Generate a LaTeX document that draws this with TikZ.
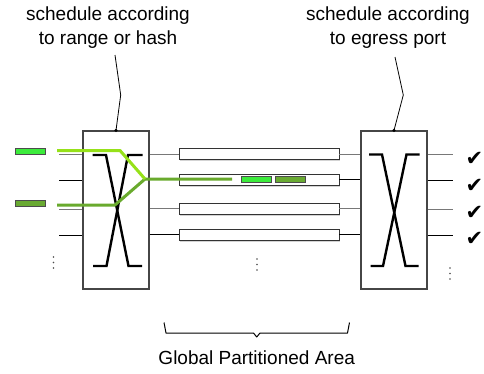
\documentclass[tikz,border=0pt]{standalone}
\usepackage{fontspec}
\setmainfont{Liberation Sans}
\newfontfamily\symfont{DejaVu Sans}
\usetikzlibrary{shadows}
\definecolor{portgray}{RGB}{120,120,120}
\definecolor{boxgray}{RGB}{70,70,70}
\definecolor{pktlight}{RGB}{60,235,60}
\definecolor{pktdark}{RGB}{105,170,50}
\definecolor{flowlight}{RGB}{150,225,25}
\definecolor{flowdark}{RGB}{105,170,45}
\tikzset{
  switchbox/.style={draw=boxgray, line width=1.3pt, fill=white, minimum width=66pt, minimum height=158pt, inner sep=0pt},
  xbar/.style={line width=2.4pt, black},
  buffer/.style={draw=black!80, line width=0.9pt, fill=white, minimum width=160pt, minimum height=11pt, inner sep=0pt,
    drop shadow={shadow xshift=1pt, shadow yshift=-1.5pt, opacity=0.35}},
  pkt/.style={draw=black!70, line width=0.7pt, minimum width=30pt, minimum height=6pt, inner sep=0pt},
  portg/.style={draw=portgray, line width=1pt},
  portb/.style={draw=black, line width=0.9pt},
  flow/.style={line width=3pt, line join=round},
  leader/.style={draw=black, line width=0.8pt},
  lbl/.style={font=\fontsize{19}{24}\selectfont, align=center, inner sep=0pt},
  vdot/.style={fill=black!70, circle, inner sep=0pt, minimum size=1.8pt},
  tick/.style={font=\symfont\fontsize{21}{21}\selectfont, inner sep=0pt}
}
\begin{document}
\begin{tikzpicture}[x=1pt,y=-1pt]
\useasboundingbox (0,0) rectangle (484,373);

% labels above the two switches
\node[lbl] (ltxt) at (108,28) {schedule according\\to range or hash};
\node[lbl] (rtxt) at (388,28) {schedule according\\to egress port};

% the two crossbar switches
\node[switchbox] (lsw) at (116,210) {};
\node[switchbox] (rsw) at (394,210) {};

% partitioned buffers
\node[buffer] (b1) at (259,154) {};
\node[buffer] (b2) at (259,179.5) {};
\node[buffer] (b3) at (259,208.5) {};
\node[buffer] (b4) at (259,234.5) {};

% input ports of the left switch
\coordinate (i1) at (59,154);
\coordinate (i2) at (59,180.5);
\coordinate (i3) at (59,209);
\coordinate (i4) at (59,235);
\draw[portg] (i1) -- (lsw.west |- i1);
\draw[portb] (i2) -- (lsw.west |- i2);
\draw[portg] (i3) -- (lsw.west |- i3);
\draw[portb] (i4) -- (lsw.west |- i4);

% links between switches and buffers
\draw[portg] (lsw.east |- b1.west) -- (b1.west);
\draw[portb] (lsw.east |- b2.west) -- (b2.west);
\draw[portg] (lsw.east |- b3.west) -- (b3.west);
\draw[portb] (lsw.east |- b4.west) -- (b4.west);
\draw[portg] (b1.east) -- (rsw.west |- b1.east);
\draw[portb] (b2.east) -- (rsw.west |- b2.east);
\draw[portg] (b3.east) -- (rsw.west |- b3.east);
\draw[portb] (b4.east) -- (rsw.west |- b4.east);

% output ports of the right switch
\coordinate (o1) at (453,154);
\coordinate (o2) at (453,180.5);
\coordinate (o3) at (453,209);
\coordinate (o4) at (453,235);
\draw[portg] (rsw.east |- o1) -- (o1);
\draw[portb] (rsw.east |- o2) -- (o2);
\draw[portg] (rsw.east |- o3) -- (o3);
\draw[portb] (rsw.east |- o4) -- (o4);

% crossbar symbols
\draw[xbar] (92.5,155) -- (106,155) -- (128.5,266) -- (142,266);
\draw[xbar] (142.5,155) -- (128,155) -- (106.5,266) -- (93,266);
\draw[xbar] (369,154.5) -- (382,154.5) -- (405.5,266) -- (418.5,266);
\draw[xbar] (419.5,154.5) -- (406.5,154.5) -- (383,266) -- (370.5,266);

% flows scattered into one partition
\coordinate (fl0) at (57,150.5);
\coordinate (fl1) at (120,150.5);
\coordinate (fd0) at (57,205);
\coordinate (fd1) at (115,205);
\coordinate (fm) at (145,179);
\coordinate (fe) at (232,179);
\draw[flow, flowdark] (fd0) -- (fd1) -- (fm) -- (fe);
\draw[flow, flowlight] (fl0) -- (fl1) -- (fm);

% packets
\node[pkt, fill=pktlight] (p1) at (30.5,151.5) {};
\node[pkt, fill=pktdark] (p2) at (30.5,203.5) {};
\node[pkt, fill=pktlight] (q1) at (256,179.5) {};
\node[pkt, fill=pktdark] (q2) at (290.5,179.5) {};

% delivered outputs
\node[tick] (t1) at (474.5,159) {✔};
\node[tick] (t2) at (474.5,185.5) {✔};
\node[tick] (t3) at (474.5,212.5) {✔};
\node[tick] (t4) at (474.5,238.5) {✔};

% leader lines to the switches
\coordinate (lk1) at (115,55);
\coordinate (lk2) at (120.7,95);
\coordinate (rk1) at (395,57);
\coordinate (rk2) at (403.3,95);
\draw[leader] (lk1) -- (lk2) -- (lsw.north);
\draw[leader] (rk1) -- (rk2) -- (rsw.north);
\fill (lsw.north) circle (1.8pt);
\fill (rsw.north) circle (1.8pt);

% continuation dots
\foreach \yy in {257,262.5,268} \node[vdot] at (53.5,\yy) {};
\foreach \yy in {259,264.5,270} \node[vdot] at (257,\yy) {};
\foreach \yy in {268,273.5,279} \node[vdot] at (450,\yy) {};

% brace under the buffers
\coordinate (br0) at (164,322.5);
\coordinate (br1) at (349.5,322.5);
\draw[line width=1pt, line join=round] (br0) -- (166,333) -- (253.5,333) -- (256.7,337) -- (260,333) -- (347.5,333) -- (br1);
\node[lbl] (gtxt) at (256.7,358) {Global Partitioned Area};
\end{tikzpicture}
\end{document}
